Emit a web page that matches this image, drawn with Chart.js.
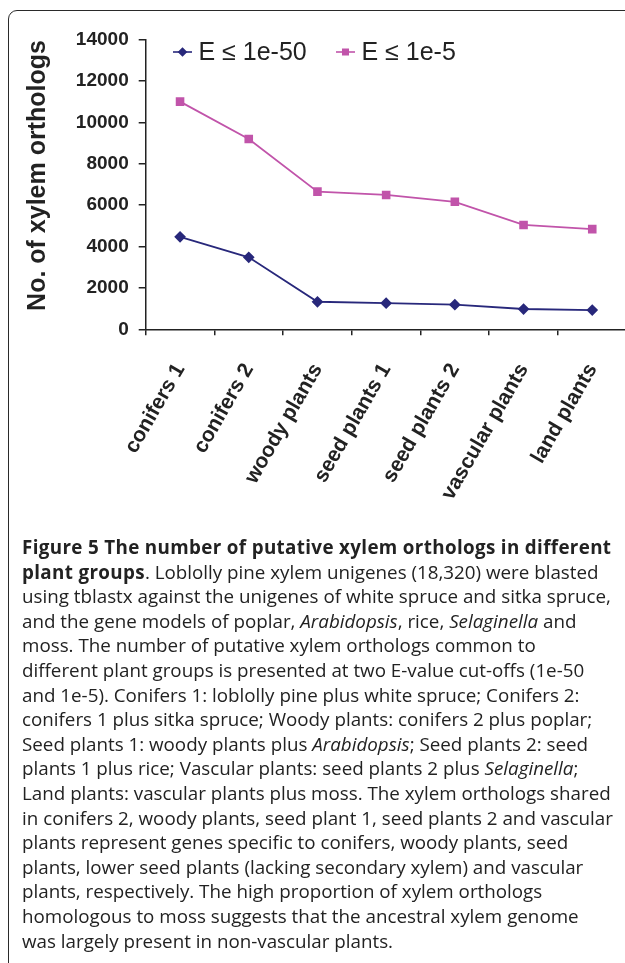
<!DOCTYPE html>
<html>
<head>
<meta charset="utf-8">
<script src="https://cdn.jsdelivr.net/npm/chart.js@4/dist/chart.umd.min.js"></script>
<style>
  html, body { margin: 0; padding: 0; background: #fff; overflow: hidden; }
  body { width: 625px; height: 963px; position: relative; }
  #frame {
    position: absolute; left: 8px; top: 10px; width: 700px; height: 1000px;
    border: 1.5px solid #2a2a2a; border-radius: 9px; box-sizing: border-box;
  }
  #plot { position: absolute; left: 0; top: 0; }
  #caption {
    position: absolute; left: 22px; top: 535px;
    font-family: "Open Sans", "Noto Sans", sans-serif; font-size: 18.8px;
    line-height: 24.6px; color: #222; white-space: nowrap;
  }
  #caption b { font-weight: 700; letter-spacing: 0.35px; }
</style>
</head>
<body>
<div id="frame"></div>
<canvas id="plot" width="640" height="535"></canvas>
<div id="caption">
<b>Figure 5 The number of putative xylem orthologs in different</b><br>
<b>plant groups</b>. Loblolly pine xylem unigenes (18,320) were blasted<br>
using tblastx against the unigenes of white spruce and sitka spruce,<br>
and the gene models of poplar, <i>Arabidopsis</i>, rice, <i>Selaginella</i> and<br>
moss. The number of putative xylem orthologs common to<br>
different plant groups is presented at two E-value cut-offs (1e-50<br>
and 1e-5). Conifers 1: loblolly pine plus white spruce; Conifers 2:<br>
conifers 1 plus sitka spruce; Woody plants: conifers 2 plus poplar;<br>
Seed plants 1: woody plants plus <i>Arabidopsis</i>; Seed plants 2: seed<br>
plants 1 plus rice; Vascular plants: seed plants 2 plus <i>Selaginella</i>;<br>
Land plants: vascular plants plus moss. The xylem orthologs shared<br>
in conifers 2, woody plants, seed plant 1, seed plants 2 and vascular<br>
plants represent genes specific to conifers, woody plants, seed<br>
plants, lower seed plants (lacking secondary xylem) and vascular<br>
plants, respectively. The high proportion of xylem orthologs<br>
homologous to moss suggests that the ancestral xylem genome<br>
was largely present in non-vascular plants.
</div>
<script>
// Plant groups, from the narrowest (two conifers) to all land plants
const categories = ['conifers 1', 'conifers 2', 'woody plants', 'seed plants 1',
                    'seed plants 2', 'vascular plants', 'land plants'];
// Number of xylem orthologs at the strict cut-off (E <= 1e-50)
const strictCounts = [4470, 3480, 1330, 1260, 1190, 980, 930];
// Number of xylem orthologs at the relaxed cut-off (E <= 1e-5)
const looseCounts = [11000, 9190, 6650, 6490, 6160, 5040, 4840];
const seriesNames = ['E \u2264 1e-50', 'E \u2264 1e-5'];
const yTickValues = [0, 2000, 4000, 6000, 8000, 10000, 12000, 14000];
const yTitle = 'No. of xylem orthologs';

const NAVY = '#28287b';
const MAGENTA = '#c154aa';
const AXIS = '#222';
const SANS = '"Liberation Sans", Arial, sans-serif';

// Legend drawn inside the plot area, each entry a short line with its marker
const insideLegend = {
  id: 'insideLegend',
  afterDraw(chart) {
    const ctx = chart.ctx;
    const y = 52;
    const starts = [173, 336];
    ctx.save();
    chart.data.datasets.forEach((ds, i) => {
      const x0 = starts[i];
      ctx.strokeStyle = ds.borderColor;
      ctx.lineWidth = 1.6;
      ctx.beginPath();
      ctx.moveTo(x0, y);
      ctx.lineTo(x0 + 19, y);
      ctx.stroke();
      Chart.helpers.drawPoint(ctx, {
        pointStyle: ds.pointStyle, radius: ds.pointRadius * 0.8, borderWidth: 1
      }, x0 + 9.5, y);
      ctx.fillStyle = ds.borderColor;
      ctx.fill();
      ctx.fillStyle = '#222';
      ctx.font = '25px ' + SANS;
      ctx.textBaseline = 'middle';
      ctx.textAlign = 'left';
      ctx.fillText(ds.label, x0 + 25.5, y + 1);
    });
    ctx.restore();
  }
};

// Vertical axis title, bold and rotated
const sideTitle = {
  id: 'sideTitle',
  afterDraw(chart) {
    const ctx = chart.ctx;
    ctx.save();
    ctx.translate(38, 175.5);
    ctx.rotate(-Math.PI / 2);
    ctx.font = 'bold 25px ' + SANS;
    ctx.fillStyle = '#222';
    ctx.textAlign = 'center';
    ctx.textBaseline = 'middle';
    ctx.fillText(yTitle, 0, 0);
    ctx.restore();
  }
};

new Chart(document.getElementById('plot'), {
  type: 'line',
  data: {
    labels: categories,
    datasets: [
      {
        label: seriesNames[0], data: strictCounts,
        borderColor: NAVY, backgroundColor: NAVY,
        pointStyle: 'rectRot', pointRadius: 4.6, borderWidth: 1.8
      },
      {
        label: seriesNames[1], data: looseCounts,
        borderColor: MAGENTA, backgroundColor: MAGENTA,
        pointStyle: 'rect', pointRadius: 4.8, borderWidth: 1.8
      }
    ]
  },
  options: {
    responsive: false,
    animation: false,
    events: [],
    layout: { padding: { left: 0, right: 13.4, top: 39.5, bottom: 0 } },
    plugins: { legend: { display: false }, tooltip: { enabled: false } },
    elements: { line: { tension: 0 }, point: { borderWidth: 1 } },
    scales: {
      x: {
        offset: true,
        grid: { offset: true, drawOnChartArea: false, drawTicks: true, tickLength: 6,
                color: AXIS, lineWidth: 1.5 },
        border: { display: true, color: AXIS, width: 1.5 },
        ticks: {
          minRotation: 60, maxRotation: 60, padding: 24, color: '#222', autoSkip: false,
          font: { family: SANS, size: 21, weight: 'bold' }
        },
        afterFit(scale) { scale.height = 535 - 329.3; }
      },
      y: {
        min: 0, max: 14000,
        afterBuildTicks(scale) { scale.ticks = yTickValues.map(v => ({ value: v })); },
        grid: { drawOnChartArea: false, drawTicks: true, tickLength: 7,
                color: AXIS, lineWidth: 1.5 },
        border: { display: true, color: AXIS, width: 1.5 },
        ticks: {
          padding: 10, color: '#222',
          font: { family: SANS, size: 19, weight: 'bold' },
          callback: v => String(v)
        },
        afterFit(scale) { scale.width = 145.7; }
      }
    }
  },
  plugins: [insideLegend, sideTitle]
});
</script>
</body>
</html>
